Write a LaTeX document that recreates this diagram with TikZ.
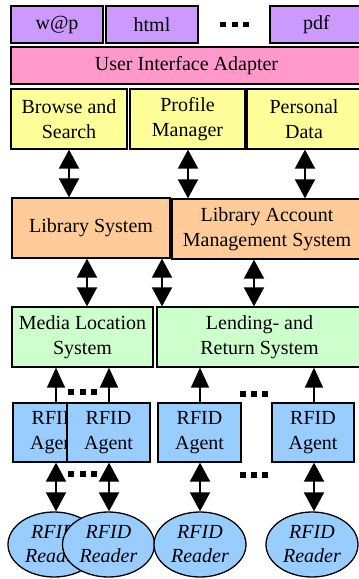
\documentclass[tikz,border=0pt]{standalone}
\usepackage{fontspec}
\setmainfont{Liberation Serif}
\usetikzlibrary{arrows.meta,shapes.geometric}
\definecolor{cpurple}{HTML}{CC99FF}
\definecolor{cpink}{HTML}{FF99CC}
\definecolor{cyellow}{HTML}{FFFF99}
\definecolor{corange}{HTML}{FFCC99}
\definecolor{cgreen}{HTML}{CCFFCC}
\definecolor{cblue}{HTML}{99CCFF}
\begin{document}
\begin{tikzpicture}[x=1pt,y=-1pt,
  box/.style={draw=black, line width=1.3pt, inner sep=0pt, align=center,
    font=\fontsize{20}{25}\selectfont},
  reader/.style={ellipse, draw=black, line width=1.3pt, fill=cblue, inner sep=0pt,
    minimum width=92pt, minimum height=65pt, align=center,
    font=\fontsize{20}{24}\selectfont\itshape},
  dblarrow/.style={line width=2pt,
    {Triangle[length=19pt,width=20pt]}-{Triangle[length=19pt,width=20pt]}},
  uparrow/.style={line width=1.5pt, -{Triangle[length=20pt,width=18pt]}},
  dotsq/.style={fill=black}
]
\clip (0,0) rectangle (359,579);
\fill[white] (0,0) rectangle (359,579);

% top row
\node[box, fill=cpurple, minimum width=92pt, minimum height=37pt] (wap) at (57,24.5) {w@p};
\node[box, fill=cpurple, minimum width=92pt, minimum height=37pt] (html) at (152,24.5) {html};
\node[box, fill=cpurple, minimum width=93pt, minimum height=37pt] (pdf) at (316.5,24.5) {pdf};
\fill[dotsq] (220,21.5) rectangle ++(6,5);
\fill[dotsq] (231.5,21.5) rectangle ++(6,5);
\fill[dotsq] (243,21.5) rectangle ++(6,5);

% UI adapter
\node[box, fill=cpink, minimum width=351pt, minimum height=37pt] (uia) at (186.5,65.5) {User Interface Adapter};

% yellow row
\node[box, fill=cyellow, minimum width=116pt, minimum height=60pt] (bs) at (69,119) {Browse and\\Search};
\node[box, fill=cyellow, minimum width=115pt, minimum height=60pt] (pm) at (187.5,119) {Profile\\Manager};
\node[box, fill=cyellow, minimum width=114pt, minimum height=60pt] (pd) at (304,119) {Personal\\Data};

% orange row
\node[box, fill=corange, minimum width=158pt, minimum height=60pt] (ls) at (91,228) {Library System};
\node[box, fill=corange, minimum width=190pt, minimum height=60pt] (lams) at (267,229) {Library Account\\Management System};

% green row
\node[box, fill=cgreen, minimum width=141pt, minimum height=60pt] (mls) at (82.5,337) {Media Location\\System};
\node[box, fill=cgreen, minimum width=205pt, minimum height=60pt] (lrs) at (259.5,337) {Lending- and\\Return System};

% agents
\node[box, fill=cblue, minimum width=83pt, minimum height=59pt] (a1) at (54.5,432.5) {RFID\\Agent};
\node[box, fill=cblue, minimum width=83pt, minimum height=59pt] (a2) at (108.5,432.5) {RFID\\Agent};
\node[box, fill=cblue, minimum width=83pt, minimum height=59pt] (a3) at (199.5,432.5) {RFID\\Agent};
\node[box, fill=cblue, minimum width=82pt, minimum height=59pt] (a4) at (313,432.5) {RFID\\Agent};

% readers
\node[reader] (r1) at (54,544.5) {RFID\\Reader};
\node[reader] (r2) at (108.5,544.5) {RFID\\Reader};
\node[reader] (r3) at (200,544.5) {RFID\\Reader};
\node[reader] (r4) at (312,544.5) {RFID\\Reader};

% arrows yellow <-> orange
\draw[dblarrow] (bs.south) -- (bs.south |- ls.north);
\draw[dblarrow] ([xshift=0.5pt]pm.south) -- ([xshift=0.5pt]pm.south |- lams.north);
\draw[dblarrow] ([xshift=1pt]pd.south) -- ([xshift=1pt]pd.south |- lams.north);

% arrows orange <-> green
\draw[dblarrow] ([xshift=-4pt]ls.south) -- ([xshift=-4pt]ls.south |- mls.north);
\draw[dblarrow] ([xshift=71pt]ls.south) -- ([xshift=71pt]ls.south |- lrs.north);
\draw[dblarrow] ([xshift=-13pt]lams.south) -- ([xshift=-13pt]lams.south |- lrs.north);

% agents -> green
\draw[uparrow] ([xshift=1.5pt]a1.north) -- ([xshift=1.5pt]a1.north |- mls.south);
\draw[uparrow] ([xshift=0.5pt]a2.north) -- ([xshift=0.5pt]a2.north |- mls.south);
\draw[uparrow] ([xshift=0.5pt]a3.north) -- ([xshift=0.5pt]a3.north |- lrs.south);
\draw[uparrow] ([xshift=1pt]a4.north) -- ([xshift=1pt]a4.north |- lrs.south);

% agents <-> readers
\draw[dblarrow] ([xshift=1.5pt]a1.south) -- ([xshift=1.5pt]a1.south |- r1.north);
\draw[dblarrow] ([xshift=0.5pt]a2.south) -- ([xshift=0.5pt]a2.south |- r2.north);
\draw[dblarrow] ([xshift=0.5pt]a3.south) -- ([xshift=0.5pt]a3.south |- r3.north);
\draw[dblarrow] ([xshift=1pt]a4.south) -- ([xshift=1pt]a4.south |- r4.north);

% dots
\foreach \dx in {68,79.5,91} {
  \fill[dotsq] (\dx,389) rectangle ++(6,6);
  \fill[dotsq] (\dx,471) rectangle ++(6,6);
}
\foreach \dx in {240,251,262} {
  \fill[dotsq] (\dx,391) rectangle ++(6,6);
  \fill[dotsq] (\dx,472) rectangle ++(6,6);
}
\end{tikzpicture}
\end{document}
